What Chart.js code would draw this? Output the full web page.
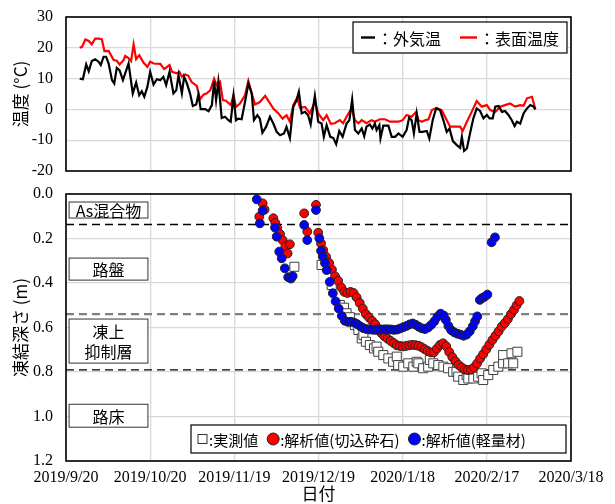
<!DOCTYPE html>
<html>
<head>
<meta charset="utf-8">
<script src="https://cdn.jsdelivr.net/npm/chart.js@4.4.0/dist/chart.umd.min.js"></script>
<style>
  body { margin: 0; background: #fff; width: 615px; height: 504px; overflow: hidden; position: relative; }
  #tempChart { position: absolute; left: 0; top: 0; }
  #depthChart { position: absolute; left: 0; top: 180px; }
</style>
</head>
<body>
<canvas id="tempChart" width="615" height="185"></canvas>
<canvas id="depthChart" width="615" height="324"></canvas>
<script>
// x values are days since 2019/9/20
const xTickLabels = ['2019/9/20', '2019/10/20', '2019/11/19', '2019/12/19', '2020/1/18', '2020/2/17', '2020/3/18'];

// ---- air temperature (black)
const airDays = [4.9, 6, 7.2, 8.1, 9.2, 10.4, 11.6, 12.4, 13.4, 14.3, 15.2, 16.4, 17.2, 18.1, 19.1, 20.3, 21.1, 22.3, 23.8, 25,
  26.1, 27, 27.9, 29, 30, 31.2, 32.4, 33.6, 34.7, 35.7, 36.9, 38.3, 39.3, 40.1, 41.3, 42.1, 43, 44.2, 45.2, 46.4,
  47.2, 48, 49.6, 50.8, 52, 52.8, 53.5, 54.3, 55.5, 56.7, 57.9, 58.7, 59.7, 60.6, 61.4, 62.6, 63.8, 65, 66.2, 67,
  68.2, 69.1, 70, 71.3, 72.7, 73.9, 75.1, 76.3, 77.7, 78.6, 79.8, 81, 82.2, 83, 84, 85.2, 86.3, 87.2, 88.7, 89.9,
  91.1, 91.9, 92.9, 94.2, 95.3, 96.3, 97.4, 98.6, 100, 101, 102, 103, 104.2, 105.4, 106.3, 107.1, 108.3, 109.2, 110.1, 110.7,
  111.7, 112.1, 113.1, 114.9, 116.1, 117.3, 118.5, 120, 121.4, 122.3, 123.2, 124, 125, 126, 127.1, 128.6, 129.5, 130.7, 131.9, 133.3,
  134.5, 135.7, 136.7, 137.9, 139.3, 140.5, 141.1, 141.9, 142.9, 144, 145.2, 146.4, 147.6, 148.8, 150, 151, 152.1, 153, 154.2, 155.4,
  156.5, 157.7, 158.9, 159.9, 160.7, 161.9, 163.1, 164.3, 165.5, 166.7, 167.3];
const airTemp = [10, 9.8, 14.6, 12.4, 15.7, 16.3, 15.5, 14.4, 17.1, 17.1, 14.9, 9.5, 8.4, 13.5, 12.7, 9.5, 11.7, 14.9, 5.2, 8.7,
  4.6, 5.9, 4.1, 7.3, 12.2, 8.1, 9.8, 9.5, 10.6, 7.9, 12.2, 5.2, 6.2, 11.1, 5.2, 10.6, 8.7, 5.2, 1.1, 1.6,
  4.8, 0.1, 0.1, -0.6, 1.4, 9.2, 3, 9, -2.8, -2.4, -3.5, -4, 4.4, -3.5, -3, -3.2, 2.4, 8.4, 5.2, -3.5,
  -1.9, -3, -7.6, -5.7, -2.4, -4.6, -7.3, -8.4, -7.8, -5.7, -9.3, 0.8, 3, 5.7, -1.3, -0.8, -1.9, -4.9, 4.4, -4,
  -4.6, -8.9, -5.1, -8.9, -9.3, -11.3, -7, -8.9, -4.6, -3.5, 3.2, -6.7, -7.8, -6.2, -8.7, -5.6, -4.9, -6.2, -4.6, -6.7,
  -5.1, -9.4, -5.3, -5.3, -8.9, -8.9, -7.8, -8.9, -6.7, -2.7, -3.5, -7.8, -1.3, -7.3, -7.3, -7, -9.4, -3.5, 0.3, -0.2,
  -3.5, -7.3, -6.2, -10.3, -11.6, -12.5, -8.9, -13.5, -12.7, -7.8, -2.9, 0.3, -0.5, -2.9, -1.8, -2.9, -2.9, 0.9, 1.1, -0.8,
  -0.5, -1.8, -3.5, -5.4, -4, -4.6, -1.3, 0.3, 1.4, 0.9, 0];

// ---- surface temperature (red)
const surfDays = [4.9, 5.7, 6.9, 8.1, 9.2, 10.4, 11.6, 12.8, 13.7, 15.2, 17, 18.1, 19.1, 20.5, 21.1, 22.3, 23.2, 24.1, 25, 26.1,
  27.6, 29, 30, 31.2, 33.6, 35, 36.9, 37.8, 39.5, 40.4, 41.3, 42.5, 43.6, 44.8, 46.6, 47.8, 49, 50.2, 51.4, 52.8,
  53.7, 54.9, 55.9, 57, 58.7, 59.7, 60.6, 62, 63.8, 65, 66.2, 67.4, 69.1, 71, 73.9, 75.7, 77.2, 78.6, 79.8, 81,
  82.4, 83.4, 85.2, 86.9, 88.7, 89.9, 91.7, 92.9, 94.4, 95.8, 97.6, 98.8, 100, 101.8, 103, 104.2, 105.4, 107.1, 108.9, 110.1,
  111.9, 113.7, 115.5, 117.3, 118.5, 120, 121.4, 123.2, 124.8, 125.6, 126.8, 128, 129.2, 130.4, 132.1, 133.9, 135.1, 136.9, 138.7, 140.5,
  141.4, 142.9, 144.6, 146.4, 148.2, 150, 151.2, 153, 154.8, 156.5, 158.3, 160.1, 161.9, 163.1, 164.3, 166.1, 167.3];
const surfTemp = [20, 20.3, 22.7, 22.2, 21.1, 23, 23, 22.7, 18.9, 19, 16, 15.8, 14.6, 16, 17.4, 16.7, 15.7, 21.1, 16.3, 17.6,
  15.2, 13.8, 15.5, 14.9, 14.8, 13.1, 14.4, 12.2, 11.7, 12.2, 10.6, 11.3, 10.9, 8.9, 7.6, 3.3, 4.8, 5.2, 6.2, 10,
  7.9, 8.9, 3, 2.8, 1.4, 4.6, 0.8, 1.9, 4.6, 9.2, 5.2, 1.6, 2.4, 4.4, 0.3, -1.3, -3, -1.9, -4, 1.4,
  3.8, 0.5, 0.8, -1.3, 2.4, -1.3, -3.5, -1.9, -4.7, -4.5, -3.5, -4.5, -2.4, 0.3, -3.5, -4.5, -3.5, -4.5, -3.5, -4,
  -3.2, -3.2, -4, -4, -4, -3.5, -1.8, -2.4, -0.8, -3.5, -4, -3.5, -3.2, -0.2, 0.5, -0.2, -2.4, -5.6, -5.6, -5.6,
  -7, -4, -0.8, 2.7, 0.9, 1.4, -0.2, -0.8, 0.9, 1.4, 1.9, 0.9, 1.4, 1.2, 3.6, 4.1, 0];

// ---- frost depth (m)
const measDays = [81.4, 91.1, 94.7, 97.6, 99.1, 100, 101.2, 103, 104.2, 105.4, 106, 106.9, 108.3, 109.8, 110.7, 111.3, 113.1, 114.9, 116.6, 117.9,
  118.4, 120.2, 122, 123.8, 125, 125.6, 127.3, 129.1, 129.7, 130.9, 132.7, 134.5, 136.2, 138, 139.2, 139.8, 141.6, 142.8, 143.4, 145.2,
  146.9, 148.1, 148.7, 150.5, 152.3, 154.1, 155.8, 155.8, 157.6, 158.8, 159.4, 160.9];
const measDepth = [0.327, 0.319, 0.409, 0.499, 0.511, 0.536, 0.554, 0.589, 0.611, 0.649, 0.634, 0.664, 0.679, 0.694, 0.686, 0.709, 0.724, 0.739, 0.754, 0.731,
  0.769, 0.776, 0.761, 0.776, 0.754, 0.761, 0.783, 0.776, 0.746, 0.761, 0.769, 0.776, 0.783, 0.799, 0.799, 0.821, 0.836, 0.814, 0.829, 0.829,
  0.821, 0.806, 0.836, 0.814, 0.791, 0.776, 0.761, 0.724, 0.761, 0.716, 0.761, 0.709];

const redDays = [68.9, 70.1, 70.8, 73.9, 74.6, 75.3, 76.3, 77.2, 78.2, 79, 79.8, 84.9, 86, 89.1, 89.9, 90.9, 91.7, 92.7, 93.8, 94.8,
  95.9, 97, 98.1, 99.2, 100.3, 101.4, 102.5, 103.6, 104.7, 105.8, 106.9, 108, 109.1, 110.2, 111.3, 112.4, 113.5, 114.6, 115.7, 116.8,
  117.9, 119, 120.1, 121.2, 122.3, 123.4, 124.5, 125.6, 126.7, 127.8, 128.9, 130, 131.1, 132.2, 133.3, 134.4, 135.5, 136.6, 137.7, 138.8,
  139.9, 141, 142.1, 143.2, 144.3, 145.4, 146.5, 147.6, 148.7, 149.8, 150.9, 152, 153.1, 154.2, 155.3, 156.4, 157.5, 158.6, 159.7, 160.6,
  161.6];
const redDepth = [0.102, 0.042, 0.07, 0.109, 0.13, 0.154, 0.18, 0.207, 0.235, 0.267, 0.226, 0.087, 0.169, 0.049, 0.174, 0.222, 0.252, 0.282, 0.31, 0.34,
  0.37, 0.39, 0.42, 0.44, 0.445, 0.44, 0.445, 0.465, 0.49, 0.515, 0.54, 0.555, 0.57, 0.585, 0.605, 0.625, 0.64, 0.65, 0.66, 0.67,
  0.68, 0.683, 0.685, 0.683, 0.68, 0.678, 0.679, 0.682, 0.688, 0.697, 0.705, 0.712, 0.712, 0.695, 0.678, 0.671, 0.684, 0.71, 0.733, 0.752,
  0.768, 0.779, 0.788, 0.791, 0.789, 0.78, 0.762, 0.74, 0.72, 0.698, 0.677, 0.656, 0.637, 0.617, 0.596, 0.58, 0.562, 0.54, 0.52, 0.5,
  0.481];

const blueDays = [68, 70.1, 69.1, 74.5, 75.1, 76, 76.9, 78, 79.2, 80.2, 80.8, 84.9, 86, 89.1, 90.3, 90.9, 91.5, 92.3, 92.9, 94,
  95.1, 96.1, 97.2, 98.3, 99.4, 100.5, 101.6, 102.7, 103.8, 104.9, 106, 107.1, 108.2, 109.3, 110.4, 111.5, 112.6, 113.7, 114.8, 115.9,
  117, 118.1, 119.2, 120.3, 121.4, 122.5, 123.6, 124.7, 125.8, 126.9, 128, 129.1, 130.2, 131.3, 132.4, 133.5, 134.6, 135.4, 136.3, 137.3,
  138.4, 139.5, 140.6, 141.7, 142.8, 143.9, 145, 145.8, 146.6, 147.5, 148.3, 149.2, 150.2, 151.7, 152.9];
const blueDepth = [0.024, 0.075, 0.132, 0.151, 0.192, 0.259, 0.289, 0.334, 0.374, 0.38, 0.369, 0.139, 0.207, 0.072, 0.199, 0.255, 0.28, 0.31, 0.342, 0.395,
  0.446, 0.482, 0.515, 0.548, 0.57, 0.575, 0.574, 0.578, 0.585, 0.595, 0.603, 0.607, 0.609, 0.61, 0.611, 0.61, 0.609, 0.608, 0.608, 0.609,
  0.611, 0.609, 0.604, 0.598, 0.593, 0.586, 0.582, 0.588, 0.597, 0.604, 0.607, 0.6, 0.588, 0.572, 0.552, 0.538, 0.546, 0.566, 0.593, 0.612,
  0.622, 0.628, 0.632, 0.637, 0.632, 0.617, 0.595, 0.572, 0.55, 0.476, 0.468, 0.462, 0.452, 0.217, 0.195];

// layer boundaries (m) and layer names
const layerLines = [0.137, 0.54, 0.79];
const layerNames = ['As混合物', '路盤', '凍上\n抑制層', '路床'];

const toXY = (xs, ys) => xs.map((x, i) => ({ x: x, y: ys[i] }));

const serif = "'Liberation Serif', 'Times New Roman', serif";
const gothic = "'Noto Sans CJK JP', 'Noto Sans', sans-serif";
const tickFont = { family: serif, size: 16 };
const titleFont = { family: gothic, size: 17 };
const gridColor = '#d9d9d9';

const xAxis = (showTicks) => ({
  type: 'linear', min: 0, max: 180,
  ticks: {
    display: showTicks, stepSize: 30, autoSkip: false, maxRotation: 0, padding: 7,
    color: '#000', font: tickFont,
    callback: v => xTickLabels[Math.round(v / 30)]
  },
  grid: { color: gridColor, lineWidth: 1.3, drawTicks: false },
  border: { display: false },
  title: { display: showTicks, text: '日付', color: '#000', font: titleFont, padding: { top: 0, bottom: 0 } },
  afterFit: s => { s.height = showTicks ? 43 : 14; s.paddingLeft = 0; s.paddingRight = 0; }
});

const yFit = s => { s.width = 66; s.paddingTop = 0; s.paddingBottom = 0; };

const framePlugin = {
  id: 'frame',
  afterDraw(chart) {
    const { ctx, chartArea: a } = chart;
    ctx.save();
    ctx.strokeStyle = '#000';
    ctx.lineWidth = 1.6;
    ctx.strokeRect(a.left, a.top, a.right - a.left, a.bottom - a.top);
    ctx.restore();
  }
};

// ================= temperature chart =================
const tempLegend = {
  id: 'tempLegend',
  afterDraw(chart) {
    const { ctx, chartArea: a } = chart;
    const bx = a.right - 218, by = a.top + 5, bw = 214, bh = 31;
    ctx.save();
    ctx.fillStyle = '#fff';
    ctx.fillRect(bx, by, bw, bh);
    ctx.strokeStyle = '#000';
    ctx.lineWidth = 1.2;
    ctx.strokeRect(bx, by, bw, bh);
    const cy = by + bh / 2;
    ctx.lineWidth = 2.4;
    ctx.strokeStyle = '#000';
    ctx.beginPath(); ctx.moveTo(bx + 8, cy); ctx.lineTo(bx + 22, cy); ctx.stroke();
    ctx.strokeStyle = '#ff0000';
    ctx.beginPath(); ctx.moveTo(bx + 107, cy); ctx.lineTo(bx + 124, cy); ctx.stroke();
    ctx.fillStyle = '#000';
    ctx.font = "16px " + gothic;
    ctx.textBaseline = 'middle';
    ctx.fillText('：外気温', bx + 24, cy + 1);
    ctx.fillText('：表面温度', bx + 126, cy + 1);
    ctx.restore();
  }
};

new Chart(document.getElementById('tempChart'), {
  type: 'line',
  data: {
    datasets: [
      { label: '外気温', data: toXY(airDays, airTemp), borderColor: '#000', borderWidth: 2.2, pointRadius: 0, tension: 0 },
      { label: '表面温度', data: toXY(surfDays, surfTemp), borderColor: '#ff0000', borderWidth: 2.2, pointRadius: 0, tension: 0 }
    ]
  },
  options: {
    responsive: false,
    animation: false,
    layout: { padding: { left: 0, right: 44, top: 17, bottom: 0 } },
    plugins: { legend: { display: false }, tooltip: { enabled: false } },
    scales: {
      x: xAxis(false),
      y: {
        min: -20, max: 30,
        ticks: { stepSize: 10, padding: 13, color: '#000', font: tickFont },
        grid: { color: gridColor, lineWidth: 1.3, drawTicks: false },
        border: { display: false },
        title: { display: true, text: '温度 (°C)', color: '#000', font: titleFont, padding: { top: 10, bottom: 0 } },
        afterFit: yFit
      }
    }
  },
  plugins: [framePlugin, tempLegend]
});

// ================= frost depth chart =================
const depthDecor = {
  id: 'depthDecor',
  beforeDatasetsDraw(chart) {
    const { ctx, chartArea: a, scales: { y } } = chart;
    ctx.save();
    ctx.setLineDash([8, 5]);
    layerLines.forEach((d, i) => {
      const py = y.getPixelForValue(d);
      ctx.strokeStyle = i === 1 ? '#7f7f7f' : '#000';
      ctx.lineWidth = i === 1 ? 2.2 : 1.3;
      ctx.beginPath(); ctx.moveTo(a.left, py); ctx.lineTo(a.right, py); ctx.stroke();
    });
    ctx.restore();
  },
  afterDraw(chart) {
    const { ctx, chartArea: a, scales: { x, y } } = chart;
    ctx.save();
    // layer name boxes
    const spans = [[0.036, 0.108], [0.288, 0.387], [0.562, 0.760], [0.945, 1.048]];
    const x0 = x.getPixelForValue(1.1), x1 = x.getPixelForValue(29.2);
    ctx.font = "16px " + gothic;
    ctx.textAlign = 'center';
    ctx.textBaseline = 'middle';
    layerNames.forEach((name, i) => {
      const t = y.getPixelForValue(spans[i][0]), b = y.getPixelForValue(spans[i][1]);
      ctx.fillStyle = '#fff';
      ctx.fillRect(x0, t, x1 - x0, b - t);
      ctx.strokeStyle = '#333';
      ctx.lineWidth = 1;
      ctx.strokeRect(x0, t, x1 - x0, b - t);
      ctx.fillStyle = '#000';
      const lines = name.split('\n');
      const mid = (t + b) / 2;
      lines.forEach((ln, k) => {
        const ly = mid + (k - (lines.length - 1) / 2) * 20 + 1;
        ctx.fillText(ln, (x0 + x1) / 2, ly, x1 - x0 - 10);
      });
    });
    // legend
    const bw = 375, bh = 28;
    const bx = a.right - 5 - bw, by = a.bottom - 8 - bh;
    ctx.fillStyle = '#fff';
    ctx.fillRect(bx, by, bw, bh);
    ctx.strokeStyle = '#000';
    ctx.lineWidth = 1.2;
    ctx.strokeRect(bx, by, bw, bh);
    const cy = by + bh / 2;
    ctx.textAlign = 'left';
    ctx.font = "15px " + gothic;
    let cx = bx + 7;
    ctx.strokeStyle = '#333'; ctx.lineWidth = 1;
    ctx.strokeRect(cx, cy - 4.5, 9, 9);
    cx += 11;
    ctx.fillStyle = '#000';
    ctx.fillText(':実測値', cx, cy + 1);
    cx += ctx.measureText(':実測値').width + 9;
    [['#ff0000', ':解析値(切込砕石)'], ['#0000ff', ':解析値(軽量材)']].forEach(([c, txt]) => {
      ctx.beginPath(); ctx.arc(cx + 6, cy, 6, 0, Math.PI * 2);
      ctx.fillStyle = c; ctx.fill();
      ctx.strokeStyle = '#222'; ctx.lineWidth = 1; ctx.stroke();
      cx += 13;
      ctx.fillStyle = '#000';
      ctx.fillText(txt, cx, cy + 1);
      cx += ctx.measureText(txt).width + 9;
    });
    ctx.restore();
  }
};

new Chart(document.getElementById('depthChart'), {
  type: 'scatter',
  data: {
    datasets: [
      { label: '実測値', data: toXY(measDays, measDepth), order: 3, pointStyle: 'rect', pointRadius: 6.4,
        backgroundColor: '#fff', borderColor: '#404040', borderWidth: 1 },
      { label: '解析値(切込砕石)', data: toXY(redDays, redDepth), order: 2, pointRadius: 4.4,
        backgroundColor: '#ff0000', borderColor: '#222', borderWidth: 1 },
      { label: '解析値(軽量材)', data: toXY(blueDays, blueDepth), order: 1, pointRadius: 4.4,
        backgroundColor: '#0000ff', borderColor: '#222', borderWidth: 1 }
    ]
  },
  options: {
    responsive: false,
    animation: false,
    layout: { padding: { left: 0, right: 44, top: 14, bottom: 0 } },
    plugins: { legend: { display: false }, tooltip: { enabled: false } },
    scales: {
      x: xAxis(true),
      y: {
        reverse: true, min: 0, max: 1.2,
        ticks: { stepSize: 0.2, padding: 13, color: '#000', font: tickFont, callback: v => v.toFixed(1) },
        grid: { color: gridColor, lineWidth: 1.3, drawTicks: false },
        border: { display: false },
        title: { display: true, text: '凍結深さ (m)', color: '#000', font: titleFont, padding: { top: 10, bottom: 0 } },
        afterFit: yFit
      }
    }
  },
  plugins: [framePlugin, depthDecor]
});
</script>
</body>
</html>
